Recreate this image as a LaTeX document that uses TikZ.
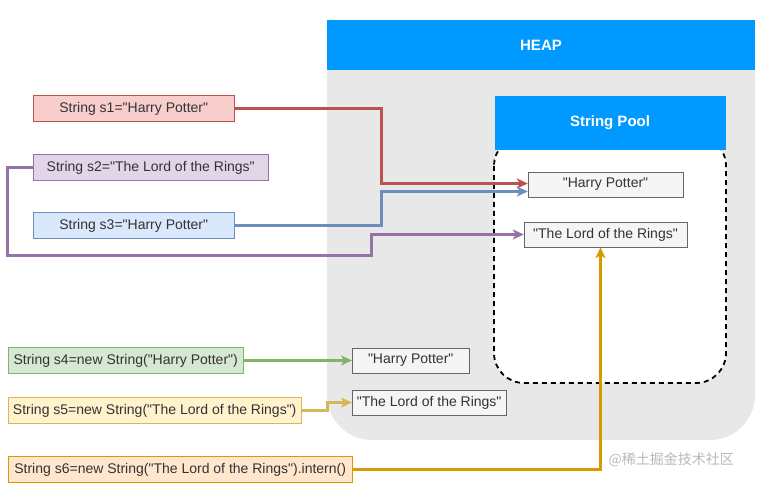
\documentclass[tikz,border=0pt]{standalone}
\usepackage{fontspec}
\setmainfont{Liberation Sans}[Ligatures=TeXOff]
\newfontfamily\cjkfont{Noto Sans CJK SC}
\usetikzlibrary{arrows.meta,calc}

\definecolor{heapblue}{HTML}{0099FF}
\definecolor{heapgray}{HTML}{E8E8E8}
\definecolor{boxfill}{HTML}{F5F5F5}
\definecolor{boxline}{HTML}{666666}
\definecolor{txtgray}{HTML}{333333}
\definecolor{redfill}{HTML}{F8CECC}\definecolor{redline}{HTML}{B85450}
\definecolor{purfill}{HTML}{E1D5E7}\definecolor{purline}{HTML}{9673A6}
\definecolor{bluefill}{HTML}{DAE8FC}\definecolor{blueline}{HTML}{6C8EBF}
\definecolor{grnfill}{HTML}{D5E8D4}\definecolor{grnline}{HTML}{82B366}
\definecolor{yelfill}{HTML}{FFF2CC}\definecolor{yelline}{HTML}{D6B656}
\definecolor{orgfill}{HTML}{FFE6CC}\definecolor{orgline}{HTML}{D79B00}

\begin{document}
\begin{tikzpicture}[x=1pt,y=-1pt,
  codebox/.style={draw=#1line,fill=#1fill,text=txtgray,minimum height=26pt,inner xsep=2pt,anchor=west,font=\fontsize{14}{16}\selectfont},
  strbox/.style={draw=boxline,fill=boxfill,text=txtgray,minimum height=25pt,inner xsep=2pt,font=\fontsize{14}{16}\selectfont},
  hdr/.style={fill=heapblue,text=white,font=\fontsize{15}{17}\selectfont\bfseries},
  link/.style={draw=#1,line width=2.4pt,-{Stealth[length=11pt,width=10pt,inset=3pt]}}]
\useasboundingbox (0,0) rectangle (771,497);

% heap
\fill[heapgray,rounded corners=45pt] (327,20) rectangle (755,440);
\node[hdr,minimum width=428pt,minimum height=50pt] (heap) at (541,45) {HEAP};

% string pool
\draw[fill=white,line width=1.8pt,dash pattern=on 5pt off 4pt,rounded corners=30pt] (494,136) rectangle (726,383);
\node[hdr,minimum width=231pt,minimum height=54pt] (pool) at (610,123) {String Pool};

\node[strbox,minimum width=155pt] (poolHP) at (605.5,184.5) {"Harry Potter"};
\node[strbox,minimum width=163pt] (poolLR) at (605.5,234.5) {"The Lord of the Rings"};
\node[strbox,minimum width=117pt,anchor=west] (heapHP) at (352,360.5) {"Harry Potter"};
\node[strbox,minimum width=154pt,anchor=west] (heapLR) at (352,402.5) {"The Lord of the Rings"};

% code lines
\node[codebox=red,minimum width=201pt] (s1) at (33,108.5) {String s1="Harry Potter"};
\node[codebox=pur,minimum width=235pt] (s2) at (33,167.5) {String s2="The Lord of the Rings"};
\node[codebox=blue,minimum width=201pt] (s3) at (33,225.5) {String s3="Harry Potter"};
\node[codebox=grn,minimum width=235pt] (s4) at (8,360.5) {String s4=new String("Harry Potter")};
\node[codebox=yel,minimum width=293pt] (s5) at (8,410.5) {String s5=new String("The Lord of the Rings")};
\node[codebox=org,minimum width=344pt] (s6) at (8,469.5) {String s6=new String("The Lord of the Rings").intern()};

% references
\draw[link=redline] (s1.east) -| (381.5,183.5) -- ([yshift=1pt]poolHP.west);
\draw[link=blueline] (s3.east) -| (381.5,191.5) -- ([yshift=-7pt]poolHP.west);
\draw[link=purline] (s2.west) -- (7.5,167.5) -- (7.5,255.5) -| (371.5,234.5) -- (poolLR.west);
\draw[link=grnline] (s4.east) -- (heapHP.west);
\draw[link=yelline] (s5.east) -- (327.5,410.5) -- (327.5,402.5) -- (heapLR.west);
\draw[link=orgline] (s6.east) -| ([xshift=-5pt]poolLR.south);

\node[anchor=west,text=black!28,font=\cjkfont\fontsize{14}{16}\selectfont] (mark) at (605,460) {@稀土掘金技术社区};
\end{tikzpicture}
\end{document}
